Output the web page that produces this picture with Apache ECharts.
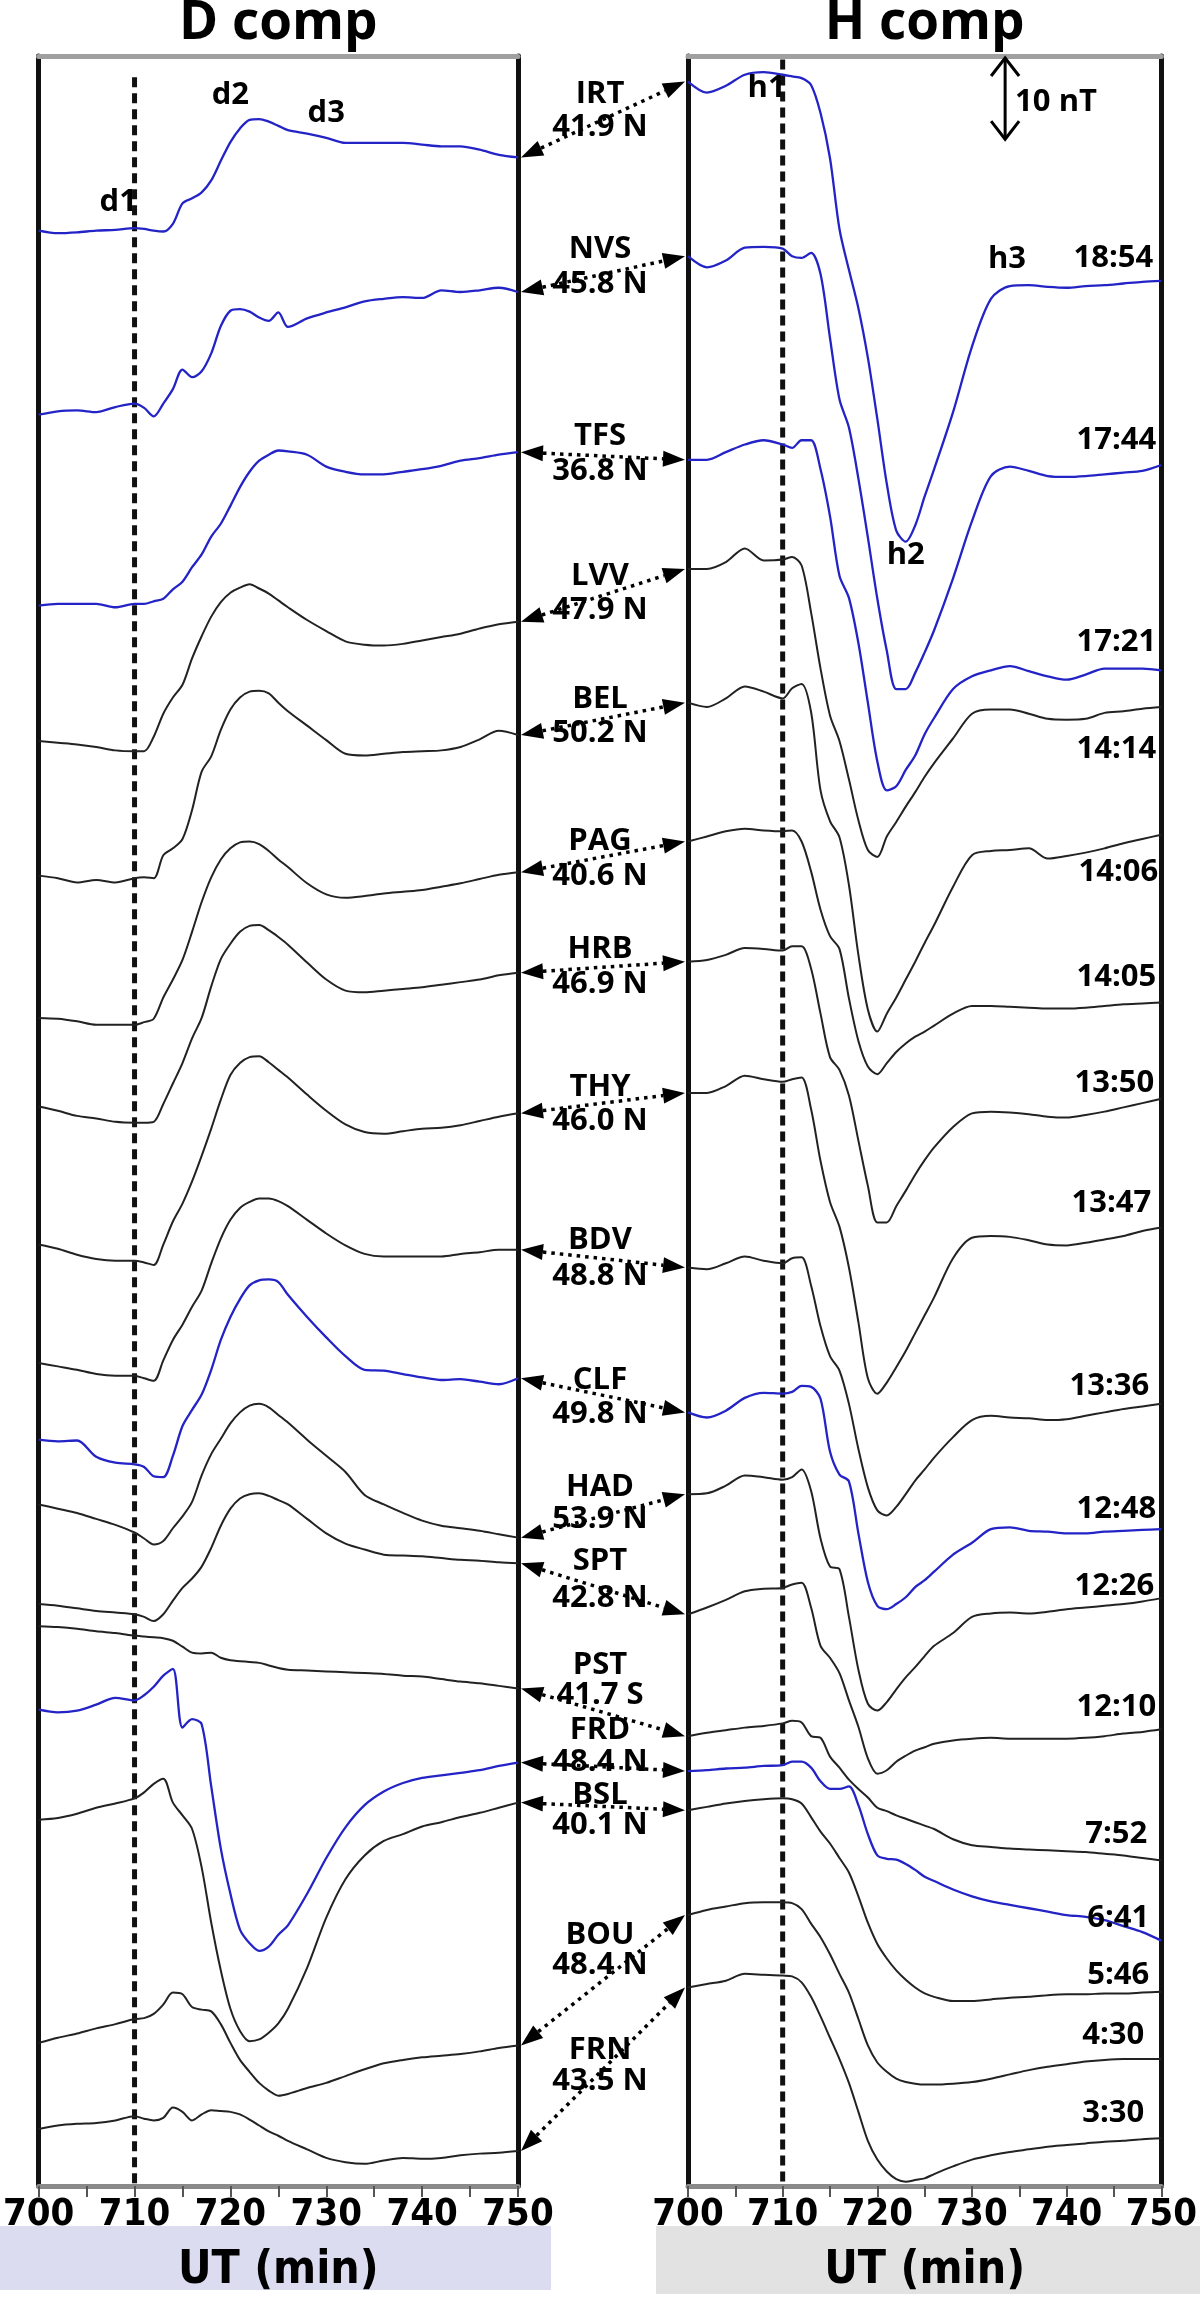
<!DOCTYPE html>
<html><head><meta charset="utf-8">
<script src="https://cdn.jsdelivr.net/npm/echarts@6/dist/echarts.min.js"></script>
<style>html,body{margin:0;padding:0;background:#fff}#c{width:1200px;height:2299px}</style>
</head><body><div id="c"></div>
<script>
// ---------- data ----------
const T = [700,702,704,706,708,710,711,712,713,714,715,716,717,718,719,720,721,722,723,724,725,726,728,730,732,734,736,738,740,742,744,746,748,750];
const stations = ['IRT','NVS','TFS','LVV','BEL','PAG','HRB','THY','BDV','CLF','HAD','SPT','PST','FRD','BSL','BOU','FRN'];
const latitudes = ['41.9 N','45.8 N','36.8 N','47.9 N','50.2 N','40.6 N','46.9 N','46.0 N','48.8 N','49.8 N','53.9 N','42.8 N','41.7 S','48.4 N','40.1 N','48.4 N','43.5 N'];
const localTimes = ['18:54','17:44','17:21','14:14','14:06','14:05','13:50','13:47','13:36','12:48','12:26','12:10','7:52','6:41','5:46','4:30','3:30'];
const blueStations = ['IRT','NVS','TFS','CLF','FRD'];
// stacking baselines (nT) of each trace in each panel
const dOffset = [229.5,207.9,185.5,169.6,153.8,137.1,126.7,110.5,96.6,87.6,80.0,68.3,65.7,55.9,43.0,16.8,6.7];
const hOffset = [247.0,226.5,202.6,189.8,174.1,157.8,143.7,128.3,107.8,90.8,81.2,67.1,52.8,48.7,44.1,31.8,23.3];

// D component deflections (nT) at times T
const D_IRT = [0,-0.3,-0.2,0,0.1,0.3, 0.2,0,-0.1,0.8,3.2,3.8,4.5,5.9,8.2,10.4,12.0,13.0,13.1,12.8,12.3,11.8, 11.4,10.9,10.3,10.3,10.3,10.3,10.1,9.9,9.9,9.5,8.9,8.6];
const D_NVS = [0,0.4,0.5,0.3,0.9,1.3, 0.8,-0.2,1.3,3.0,5.3,4.4,5.1,7.2,10.4,12.2,12.4,12.1,11.4,11.0,12.0,10.3, 11.3,12.0,12.6,13.3,13.6,13.8,13.7,14.6,14.4,14.6,14.9,14.4];
const D_TFS = [0,0.2,0.2,0.2,-0.2,0.2, 0.2,0.5,0.8,1.9,2.8,4.5,6.0,8.1,9.6,11.7,13.9,15.7,17.0,17.7,18.2,18.1, 17.7,16.3,15.7,15.4,15.4,15.7,16.0,16.4,17.0,17.3,17.7,18.0];
const D_LVV = [0,-0.2,-0.4,-0.7,-1.1,-1.2, -1.2,0.5,3.2,5.1,6.6,9.7,12.3,14.6,16.3,17.4,18.0,18.4,17.9,17.3,16.5,15.7, 14.2,12.9,11.7,11.3,11.2,11.4,11.8,12.2,12.6,13.2,13.7,14.0];
const D_BEL = [0,-0.3,-0.8,-0.5,-0.8,-0.3, -0.2,-0.3,2.4,3.2,4.3,7.7,12.2,14.0,17.1,19.5,20.9,21.6,21.7,21.4,20.3,19.3, 17.6,15.9,14.3,14.1,14.3,14.5,14.6,14.7,15.1,16.0,17.0,16.5];
const D_PAG = [0,-0.1,-0.4,-0.8,-0.8,-0.8, -0.5,-0.1,2.4,4.5,6.8,10.1,13.6,16.5,18.6,19.9,20.6,20.7,20.4,19.6,18.6,17.7, 15.8,14.5,14.1,14.3,14.6,14.8,15.0,15.4,15.8,16.3,16.8,17.1];
const D_HRB = [0,-0.5,-1.1,-1.4,-1.8,-1.9, -1.9,-1.8,0.3,2.7,5.1,8.0,10.4,14.1,17.3,19.1,20.5,21.2,21.3,20.7,19.9,19.0, 16.9,14.9,13.6,13.4,13.6,13.8,14.0,14.3,14.6,14.9,15.4,15.7];
const D_THY = [0,-0.5,-1.2,-1.7,-1.9,-1.9, -2.1,-2.4,0,2.7,4.8,7.4,10.4,13.6,17.0,19.9,21.3,22.0,22.1,21.4,20.5,19.6, 17.6,15.7,14.1,13.2,13.0,13.3,13.6,13.7,14.0,14.5,15.0,15.4];
const D_BDV = [0,-0.4,-0.8,-1.3,-1.5,-1.5, -1.8,-2.1,0.3,2.7,4.5,6.6,8.5,11.7,14.6,16.8,18.2,18.9,19.3,19.3,19.0,18.4, 16.8,15.2,13.8,12.8,12.5,12.5,12.5,12.5,12.8,13.0,13.3,13.3];
const D_CLF = [0,-0.2,-0.1,-2.0,-2.7,-2.9, -3.2,-4.3,-4.4,-1.9,1.6,3.5,5.3,8.2,11.7,14.4,16.5,18.1,18.7,18.8,18.5,17.0, 14.4,12.0,9.8,8.2,8.1,7.7,7.3,7.0,7.1,6.8,6.5,7.2];
const D_HAD = [0,-0.5,-1.0,-1.7,-2.4,-3.3, -4.0,-4.7,-4.3,-2.8,-1.4,0.3,3.4,5.9,7.7,9.5,10.8,11.6,11.8,11.4,10.5,9.6, 7.6,5.7,3.8,1.1,0.0,-1.0,-1.9,-2.5,-2.8,-3.1,-3.5,-3.9];
const D_SPT = [0,-0.2,-0.5,-0.8,-1.0,-1.2, -1.5,-2.0,-1.2,0.4,1.9,3.0,4.4,6.6,9.2,11.2,12.4,12.9,13.0,12.7,12.2,11.7, 10.0,8.3,7.1,6.4,5.8,5.7,5.6,5.4,5.2,5.1,4.9,4.8];
const D_PST = [0,-0.1,-0.3,-0.6,-0.8,-1.1, -1.2,-1.3,-1.4,-1.7,-2.4,-3.1,-3.2,-3.1,-3.7,-4.0,-4.1,-4.2,-4.3,-4.6,-4.9,-5.1, -5.2,-5.3,-5.4,-5.5,-5.6,-5.8,-5.9,-6.2,-6.5,-6.7,-7.0,-7.3];
const D_FRD = [0,-0.3,-0.1,0.6,1.4,1.1, 1.7,2.7,4.0,4.8,-2.1,-1.1,-1.7,-9.0,-16.3,-21.6,-25.8,-27.4,-28.3,-27.8,-26.4,-25.3, -21.6,-17.4,-13.8,-11.2,-9.6,-8.6,-8.0,-7.7,-7.4,-7.1,-6.6,-6.2];
const D_BSL = [0,0.2,0.7,1.4,1.9,2.5, 3.2,4.2,4.8,2.0,0.5,-1.1,-5.6,-12.1,-17.7,-22.2,-24.8,-26.0,-25.8,-25.0,-23.9,-22.2, -17.4,-11.5,-7.0,-4.2,-2.5,-1.7,-0.8,-0.3,0.3,0.8,1.4,2.0];
const D_BOU = [0,0.6,1.1,1.7,2.2,2.8, 2.9,3.4,4.5,5.9,5.7,4.2,3.9,3.7,2.2,0,-2.0,-3.4,-4.7,-5.6,-6.2,-6.0, -5.3,-4.7,-3.9,-3.1,-2.4,-2.0,-1.7,-1.5,-1.3,-1.0,-0.6,-0.3];
const D_FRN = [0,0.4,0.6,0.7,1.0,1.5, 1.2,1.0,1.3,2.5,2.0,1.0,1.7,2.2,2.1,2.0,1.7,1.1,0.4,-0.3,-0.8,-1.4, -2.4,-3.4,-3.9,-4.1,-3.7,-3.4,-3.5,-3.4,-3.1,-2.9,-2.8,-2.6];

// H component deflections (nT) at times T
const H_IRT = [0,-1.3,-0.5,0.8,1.1,0.8, 0.6,0.4,-0.4,-3.7,-9.0,-17.3,-22.1,-26.6,-32.4,-39.6,-47.2,-52.7,-54.0,-52.1,-48.7,-45.5, -38.8,-31.1,-25.5,-24.0,-23.9,-24.1,-24.2,-24.0,-23.9,-23.7,-23.5,-23.4];
const H_NVS = [0,-1.3,-0.5,1.0,1.1,0.9, 0,-0.2,0.4,-2.1,-9.6,-16.8,-20.1,-26.1,-33.0,-40.2,-46.3,-50.8,-50.8,-48.9,-46.5,-43.9, -37.8,-31.1,-25.8,-24.7,-25.2,-25.8,-25.9,-25.8,-25.6,-25.4,-25.2,-24.5];
const H_TFS = [0,0,0.9,1.8,2.3,1.8, 1.4,2.3,2.3,-1.1,-6.6,-13.6,-16.2,-21.5,-28.5,-35.4,-38.8,-38.3,-36.4,-34.7,-32.2,-30.3, -26.9,-25.4,-24.7,-24.2,-24.8,-25.4,-25.8,-25.2,-24.5,-24.5,-24.5,-24.7];
const H_LVV = [0,0,0.8,2.4,1.0,1.1, 1.4,0.4,-5.1,-11.7,-17.2,-20.2,-24.7,-29.5,-33.0,-33.8,-31.4,-29.7,-27.9,-26.2,-24.4,-22.8, -19.9,-17.0,-16.5,-16.5,-17.0,-17.6,-17.7,-17.6,-16.9,-16.7,-16.4,-16.2];
const H_BEL = [0,-0.5,0.5,1.9,1.3,0.5, 1.7,2.2,-1.1,-10.3,-13.9,-15.8,-21.4,-29.6,-36.0,-38.6,-36.5,-34.6,-32.5,-30.4,-28.2,-26.1, -21.6,-17.9,-17.4,-17.3,-17.1,-18.3,-18.0,-17.6,-17.1,-16.5,-16.0,-15.5];
const H_PAG = [0,0.6,1.2,1.5,1.3,1.2, 1.3,0,-3.5,-8.0,-11.1,-12.6,-18.4,-23.4,-26.4,-27.3,-26.0,-24.7,-23.7,-22.9,-22.3,-21.6, -20.2,-19.3,-19.3,-19.4,-19.5,-19.6,-19.6,-19.5,-19.3,-19.1,-19.0,-18.9];
const H_HRB = [0,0.2,0.8,1.6,1.5,1.3, 1.8,1.8,-0.8,-6.1,-11.2,-12.7,-15.7,-21.0,-26.3,-30.6,-30.6,-28.7,-26.9,-25.0,-23.3,-21.8, -19.4,-17.8,-17.6,-17.7,-17.9,-18.2,-18.3,-18.0,-17.6,-17.1,-16.6,-16.1];
const H_THY = [0,0,0.8,2.0,1.6,1.3, 1.6,1.8,-1.9,-8.0,-12.8,-15.7,-20.5,-26.9,-33.5,-35.3,-34.0,-32.2,-30.3,-28.2,-26.1,-24.0, -19.4,-17.0,-16.8,-16.9,-17.3,-17.8,-17.9,-17.6,-17.2,-16.8,-16.2,-15.8];
const H_BDV = [0,-0.2,0.5,1.3,0.8,0.5, 1.1,1.2,-2.1,-6.9,-10.4,-12.1,-16.0,-21.3,-25.8,-28.5,-29.1,-28.1,-26.6,-25.0,-23.7,-22.3, -19.9,-17.9,-17.4,-17.6,-17.7,-17.9,-17.8,-17.4,-17.0,-16.6,-16.3,-16.0];
const H_CLF = [0,-0.6,0.2,1.7,2.3,2.2, 2.4,3.1,3.0,1.6,-4.6,-7.3,-8.1,-14.2,-19.9,-22.7,-23.1,-22.5,-21.7,-20.5,-19.7,-18.7, -16.7,-15.3,-13.7,-13.5,-13.9,-14.0,-14.2,-14.2,-14.0,-13.9,-13.8,-13.7];
const H_HAD = [0,0.1,1.0,2.2,2.0,1.7, 2.0,2.9,0.4,-5.2,-8.5,-8.8,-14.4,-20.6,-24.6,-25.4,-24.4,-22.9,-21.5,-20.3,-19.0,-17.8, -16.3,-14.4,-14.0,-13.9,-14.0,-13.8,-13.5,-13.3,-13.1,-12.9,-12.6,-12.2];
const H_SPT = [0,0.8,1.7,2.7,3.0,3.1, 3.5,3.7,0.8,-3.7,-5.1,-6.9,-10.1,-13.2,-16.9,-18.7,-18.3,-17.3,-16.6,-16.0,-15.6,-15.2, -14.8,-14.6,-14.5,-14.6,-14.6,-14.6,-14.6,-14.5,-14.3,-14.0,-13.8,-13.5];
const H_PST = [0,0.4,0.7,1.0,1.2,1.5, 1.8,1.6,0,-0.2,-2.4,-3.7,-5.1,-6.2,-7.2,-8.4,-8.8,-9.3,-9.7,-10.1,-10.5,-10.9, -12.1,-12.8,-13.0,-13.2,-13.3,-13.4,-13.5,-13.6,-13.8,-14.0,-14.3,-14.6];
const H_FRD = [0,0.1,0.3,0.4,0.6,0.7, 1.1,1.1,0.4,-1.2,-2.1,-2.1,-1.8,-4.0,-7.4,-9.9,-10.3,-10.4,-10.9,-11.6,-12.4,-12.9, -13.9,-14.7,-15.3,-15.7,-16.1,-16.5,-16.9,-17.1,-17.5,-18.2,-18.9,-19.9];
const H_BSL = [0,0.4,0.8,1.1,1.3,1.4, 1.3,0.8,-0.8,-2.5,-3.9,-5.6,-7.3,-10.1,-13.2,-15.7,-17.4,-18.8,-19.9,-20.8,-21.5,-21.9, -22.4,-22.4,-22.2,-22.0,-21.9,-21.7,-21.6,-21.6,-21.5,-21.5,-21.4,-21.3];
const H_BOU = [0,0.6,1.0,1.4,1.5,1.5, 1.4,0.7,-1.0,-2.6,-4.6,-6.9,-9.1,-12.2,-15.3,-17.3,-18.4,-19.2,-19.6,-19.8,-19.9,-19.9, -19.8,-19.6,-19.2,-18.7,-18.2,-17.8,-17.5,-17.2,-17.0,-16.9,-16.9,-16.9];
const H_FRN = [0,0.4,0.8,1.6,1.5,1.4, 1.3,0.6,-1.1,-3.4,-5.9,-8.4,-11.2,-14.6,-18.0,-20.2,-21.6,-22.5,-22.8,-22.6,-22.4,-21.9, -21.0,-20.2,-19.7,-19.3,-19.0,-18.7,-18.5,-18.3,-18.1,-18.0,-17.8,-17.7];

const xTicks = [700,710,720,730,740,750];
const onsetTime = 710;
const scaleBarNT = 10;

// ---------- layout (not data) ----------
const dComp = [D_IRT,D_NVS,D_TFS,D_LVV,D_BEL,D_PAG,D_HRB,D_THY,D_BDV,D_CLF,D_HAD,D_SPT,D_PST,D_FRD,D_BSL,D_BOU,D_FRN];
const hComp = [H_IRT,H_NVS,H_TFS,H_LVV,H_BEL,H_PAG,H_HRB,H_THY,H_BDV,H_CLF,H_HAD,H_SPT,H_PST,H_FRD,H_BSL,H_BOU,H_FRN];
const nameDy = [-25,-25,-20,-19,-20,-16,-18,-16,-18,-15,-29,-28,-47,-37,-11,-45,-19];
const latDy  = [8,10,15,15,14,19,17,18,18,19,3,9,-17,-5,19,-15,12];
const timeDy = [-23,-25,-28,42,37,-25,-16,-24,-18,-20,-12,-22,-26,-22,-17,-24,-25];
const timeDx = [-8,-5,-5,-5,-3,-5,-7,-10,-12,-5,-7,-5,-14,-12,-12,-17,-17];

const BLUE = '#2323c6', BLACK = '#222222';
const YMAX = 250;
const LABEL_FONT = '"Open Sans", "DejaVu Sans", sans-serif';
const AXIS_FONT = '"Liberation Sans Narrow", "DejaVu Sans Condensed", "DejaVu Sans", sans-serif';

const chart = echarts.init(document.getElementById('c'), null, {width:1200, height:2299});

function xAx(grid, pos){
  const bottom = pos === 'bottom';
  return {
    gridIndex: grid, type:'value', min:700, max:750, interval:5, position:pos,
    axisLine:{show:true, onZero:false, lineStyle:{color: bottom ? '#8a8a8a' : '#a0a0a0', width:5}},
    axisTick:{show:bottom, length:11, inside:false, lineStyle:{color:'#555', width:2}},
    axisLabel:{show:bottom, margin:10, color:'#000', fontFamily:AXIS_FONT, fontWeight:'bold', fontSize:38,
      formatter: v => xTicks.indexOf(v) >= 0 ? String(v) : ''},
    splitLine:{show:false},
    name: bottom ? 'UT (min)' : '', nameLocation:'middle', nameGap:62,
    nameTextStyle:{color:'#000', fontFamily:AXIS_FONT, fontWeight:'bold', fontSize:46}
  };
}
function yAx(grid, pos){
  return {gridIndex:grid, type:'value', min:0, max:YMAX, position:pos,
    axisLine:{show:true, onZero:false, lineStyle:{color:'#111', width:5}},
    axisTick:{show:false}, axisLabel:{show:false}, splitLine:{show:false}};
}

const series = [];
stations.forEach((s,i)=>{
  const col = blueStations.indexOf(s) >= 0 ? BLUE : BLACK;
  const w = col === BLUE ? 2.3 : 2.0;
  series.push({name:s+' D', type:'line', xAxisIndex:0, yAxisIndex:0, symbol:'none', smooth:0.3, silent:true,
    data: T.map((t,k)=>[t, +(dOffset[i]+dComp[i][k]).toFixed(2)]), lineStyle:{color:col, width:w}, z:3});
  series.push({name:s+' H', type:'line', xAxisIndex:2, yAxisIndex:2, symbol:'none', smooth:0.3, silent:true,
    data: T.map((t,k)=>[t, +(hOffset[i]+hComp[i][k]).toFixed(2)]), lineStyle:{color:col, width:w}, z:3});
});
// onset (dashed) lines
series.push({type:'line', xAxisIndex:0, yAxisIndex:0, symbol:'none', silent:true, data:[[onsetTime,247.5],[onsetTime,0]],
  lineStyle:{color:'#111', width:5, type:[10,6]}, z:2});
series.push({type:'line', xAxisIndex:2, yAxisIndex:2, symbol:'none', silent:true, data:[[onsetTime,249.6],[onsetTime,0]],
  lineStyle:{color:'#111', width:5, type:[10,6]}, z:2});

chart.setOption({
  animation:false,
  backgroundColor:'#fff',
  grid:[{left:35, top:56, width:483, height:2158},{left:688, top:56, width:482, height:2158}],
  xAxis:[xAx(0,'bottom'), xAx(0,'top'), xAx(1,'bottom'), xAx(1,'top')],
  yAxis:[yAx(0,'left'), yAx(0,'right'), yAx(1,'left'), yAx(1,'right')],
  series: series
});

// ---------- annotations (positions computed from data through the axes) ----------
const pD = v => chart.convertToPixel({xAxisIndex:0, yAxisIndex:0}, v);
const pH = v => chart.convertToPixel({xAxisIndex:2, yAxisIndex:2}, v);
const g = [];
g.push({type:'rect', z:-10, shape:{x:0, y:2226, width:551, height:64}, style:{fill:'#dcdcf0'}});
g.push({type:'rect', z:-10, shape:{x:656, y:2226, width:544, height:68}, style:{fill:'#e2e2e2'}});
function txt(x,y,t,size,align){
  return {type:'text', z:20, style:{text:t, x:x, y:y, fill:'#000', font:'bold '+size+'px '+LABEL_FONT,
    align:align||'center', verticalAlign:'middle'}};
}
const dMid = pD([725, 0])[0], hMid = pH([725,0])[0];
g.push(txt(dMid, 24, 'D comp', 53));
g.push(txt(hMid, 24, 'H comp', 53));

stations.forEach((s,i)=>{
  const a = pD([750, dOffset[i] + dComp[i][T.length-1]]);
  const b = pH([700, hOffset[i] + hComp[i][0]]);
  const A = [a[0]+3, a[1]], B = [b[0]-3, b[1]];
  const dx = B[0]-A[0], dy = B[1]-A[1], L = Math.hypot(dx,dy);
  const ux = dx/L, uy = dy/L, nx = -uy, ny = ux;
  const hl = 22, hw = 8;
  g.push({type:'line', z:15, shape:{x1:A[0]+ux*hl, y1:A[1]+uy*hl, x2:B[0]-ux*hl, y2:B[1]-uy*hl},
    style:{stroke:'#000', lineWidth:3.5, lineDash:[3.5,5]}});
  g.push({type:'polygon', z:15, shape:{points:[[A[0],A[1]],[A[0]+ux*hl+nx*hw, A[1]+uy*hl+ny*hw],[A[0]+ux*hl-nx*hw, A[1]+uy*hl-ny*hw]]}, style:{fill:'#000'}});
  g.push({type:'polygon', z:15, shape:{points:[[B[0],B[1]],[B[0]-ux*hl+nx*hw, B[1]-uy*hl+ny*hw],[B[0]-ux*hl-nx*hw, B[1]-uy*hl-ny*hw]]}, style:{fill:'#000'}});
  const my = (A[1]+B[1])/2, mx = 600;
  g.push(txt(mx, my+nameDy[i], s, 31));
  g.push(txt(mx, my+latDy[i], latitudes[i], 31));
  // local time label at the end of the H trace
  const e = pH([750, hOffset[i] + hComp[i][T.length-1]]);
  g.push(txt(e[0]+timeDx[i], e[1]+timeDy[i], localTimes[i], 31, 'right'));
});

// phase markers
const marksD = [['d1',708.3,232.9],['d2',720.0,245.4],['d3',730.0,243.3]];
const marksH = [['h1',708.3,246.2],['h2',723.0,191.4],['h3',733.7,226.2]];
marksD.forEach(m=>{const p=pD([m[1],m[2]]); g.push(txt(p[0],p[1],m[0],31));});
marksH.forEach(m=>{const p=pH([m[1],m[2]]); g.push(txt(p[0],p[1],m[0],31));});

// 10 nT scale bar
const s1 = pH([733.5, YMAX]), s2 = pH([733.5, YMAX - scaleBarNT]);
const sx = s1[0];
g.push({type:'polyline', z:15, shape:{points:[[sx,s1[1]+2],[sx,s2[1]-2]]}, style:{stroke:'#000', lineWidth:3, fill:null}});
g.push({type:'polyline', z:15, shape:{points:[[sx-14,s1[1]+20],[sx,s1[1]+2],[sx+14,s1[1]+20]]}, style:{stroke:'#000', lineWidth:3, fill:null}});
g.push({type:'polyline', z:15, shape:{points:[[sx-14,s2[1]-20],[sx,s2[1]-2],[sx+14,s2[1]-20]]}, style:{stroke:'#000', lineWidth:3, fill:null}});
g.push(txt(sx+10, (s1[1]+s2[1])/2+4, scaleBarNT+' nT', 31, 'left'));

chart.setOption({graphic: g});
</script>
</body></html>
